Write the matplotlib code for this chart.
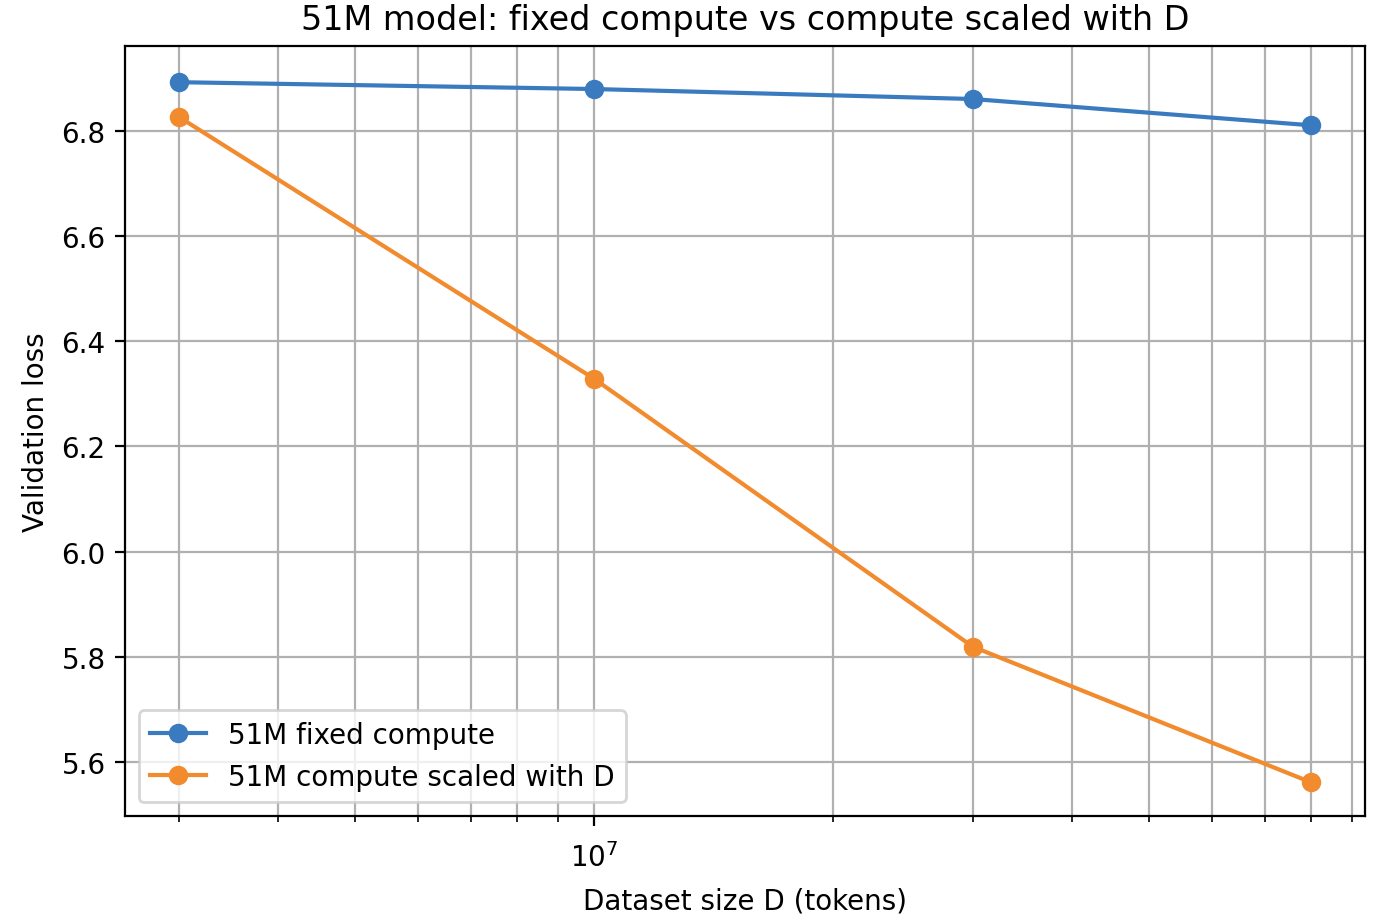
import matplotlib.pyplot as plt

# dataset sizes (tokens) and validation losses
dataset_sizes = [3e6, 1e7, 3e7, 8e7]
fixed_compute_loss = [6.893, 6.880, 6.861, 6.811]
scaled_compute_loss = [6.827, 6.329, 5.819, 5.561]

fig = plt.figure(figsize=(6.9, 4.6), dpi=200)
ax = fig.add_axes([0.0906, 0.112, 0.8986, 0.837])

ax.plot(dataset_sizes, fixed_compute_loss, marker="o", color="#3a7bbf",
        label="51M fixed compute")
ax.plot(dataset_sizes, scaled_compute_loss, marker="o", color="#f28a2e",
        label="51M compute scaled with D")
ax.set_xscale("log")
ax.set_xlim(2.567e6, 9.36e7)
ax.set_ylim(5.497, 6.962)
ax.grid(True, which="both")
ax.tick_params(axis="x", which="major", pad=6)
ax.set_xlabel("Dataset size D (tokens)", labelpad=5)
ax.set_ylabel("Validation loss")
ax.set_title("51M model: fixed compute vs compute scaled with D")
ax.legend(loc="lower left")

fig.savefig("out.png")
